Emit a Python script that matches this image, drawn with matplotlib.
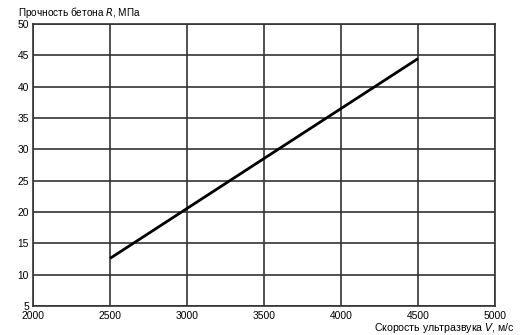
import matplotlib.pyplot as plt

plt.rcParams['font.family'] = ['Liberation Sans', 'DejaVu Sans']

# line end points: ultrasonic velocity (m/s) vs concrete strength (MPa)
velocity = [2500, 4500]
strength = [12.6, 44.5]

x_ticks = [2000, 2500, 3000, 3500, 4000, 4500, 5000]
y_ticks = [5, 10, 15, 20, 25, 30, 35, 40, 45, 50]

fig = plt.figure(figsize=(5.2, 3.35), dpi=100)
ax = fig.add_axes([0.064, 0.087, 0.888, 0.841])

ax.plot(velocity, strength, color='black', linewidth=2, solid_capstyle='butt')

ax.set_xlim(2000, 5000)
ax.set_ylim(5, 50)
ax.set_xticks(x_ticks)
ax.set_yticks(y_ticks)
ax.grid(True, color='#333333', linewidth=1.2)
ax.set_axisbelow(True)
for s in ax.spines.values():
    s.set_color('#333333')
    s.set_linewidth(1.2)
ax.tick_params(axis='y', length=0, labelsize=7.4, pad=3)
ax.tick_params(axis='x', length=0, labelsize=7.4, pad=3.5)

fig.text(0.035, 0.963, 'Прочность бетона $\\it{R}$, МПа', fontsize=7.2,
         ha='left', va='center')
fig.text(0.99, 0.022, 'Скорость ультразвука $\\it{V}$, м/с', fontsize=7.6,
         ha='right', va='center')

plt.savefig('out.png', dpi=100)
